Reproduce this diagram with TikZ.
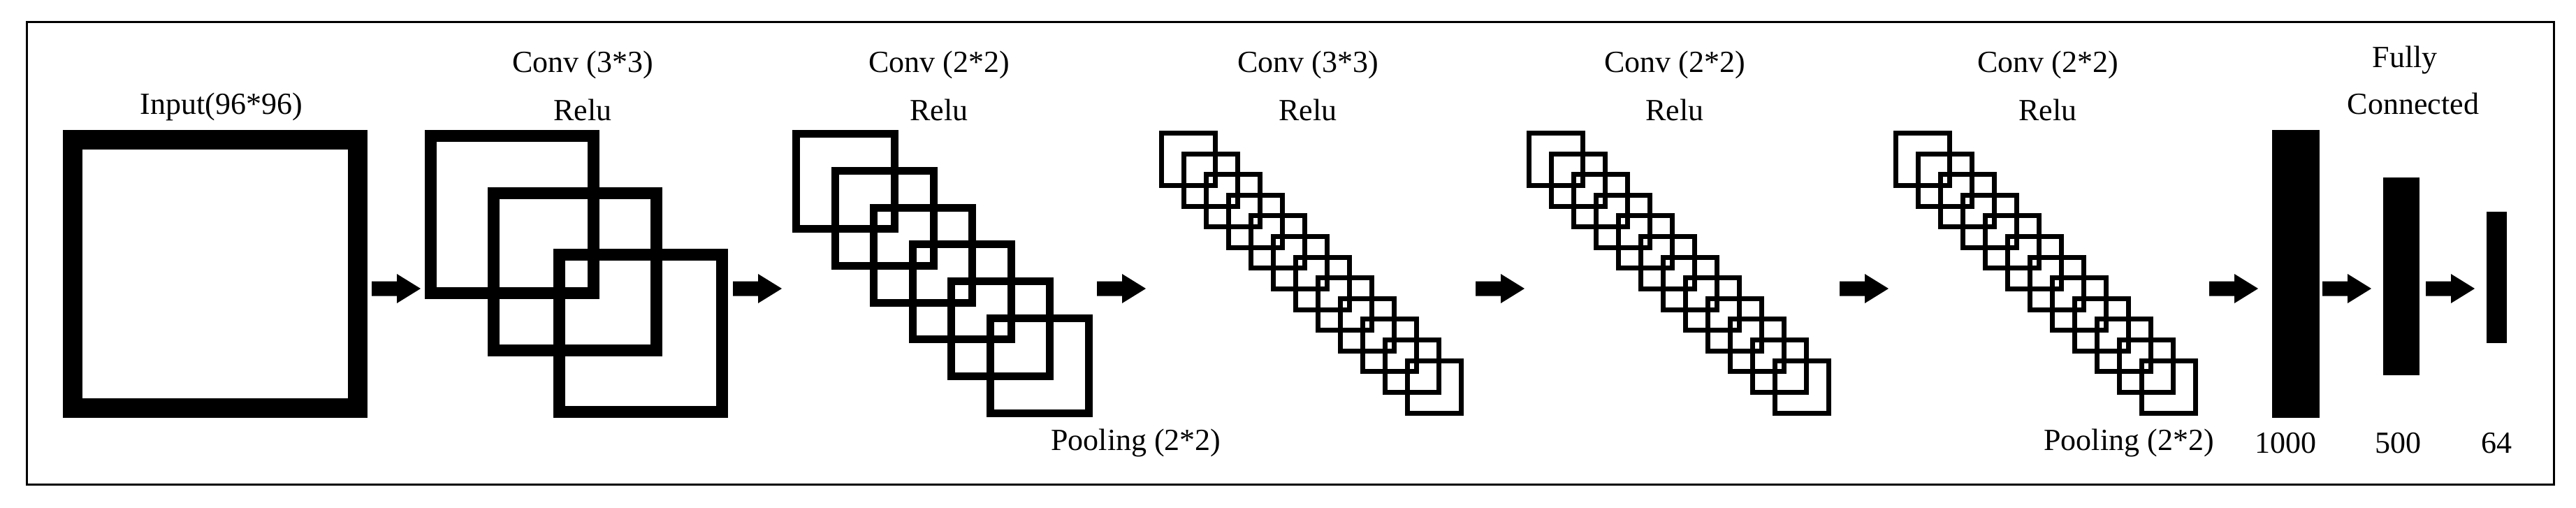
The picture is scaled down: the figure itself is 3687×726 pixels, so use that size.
\documentclass[tikz,border=0pt]{standalone}
\usepackage{fontspec}
\setmainfont{Liberation Serif}
\begin{document}
\begin{tikzpicture}[x=1pt,y=-1pt,
  lbl/.style={font=\fontsize{44}{50}\selectfont, inner sep=0pt, anchor=center},
  fm/.style={draw=black, line width=#1}]
\useasboundingbox (0,0) rectangle (3687,726);
\draw[line width=3] (38,31) rectangle (3655,693);
% arrow pic
\tikzset{pics/fwd/.style={code={
  \fill (0,-10.5) -- (36,-10.5) -- (36,-21) -- (70,0) -- (36,21) -- (36,10.5) -- (0,10.5) -- cycle;}}}
% input
\draw[fm=28] (104,200) rectangle (512,584);
\node[lbl] (tin) at (317,153) {Input(96*96)};
% conv1
\foreach \x/\y in {608/186,698/268,792/356}
  \draw[fm=17] (\x+8.5,\y+8.5) rectangle (\x+250-8.5,\y+242-8.5);
\node[lbl] (c1a) at (834,93) {Conv (3*3)};
\node[lbl] (c1b) at (834,157) {Relu};
% conv2
\foreach \i in {0,...,5}
  \draw[fm=11] ({1134+55.6*\i+5.5},{186+52.8*\i+5.5}) rectangle ({1134+55.6*\i+152-5.5},{186+52.8*\i+147-5.5});
\node[lbl] (c2a) at (1344,93) {Conv (2*2)};
\node[lbl] (c2b) at (1344,157) {Relu};
\node[lbl] (p1) at (1626,634) {Pooling (2*2)};
% small groups
\foreach \gx in {1659,2185,2710}
  \foreach \i in {0,...,11}
    \draw[fm=7] ({\gx+32*\i+3.5},{187+29.6*\i+3.5}) rectangle ({\gx+32*\i+84-3.5},{187+29.6*\i+82-3.5});
\node[lbl] (c3a) at (1872,93) {Conv (3*3)};
\node[lbl] (c3b) at (1872,157) {Relu};
\node[lbl] (c4a) at (2397,93) {Conv (2*2)};
\node[lbl] (c4b) at (2397,157) {Relu};
\node[lbl] (c5a) at (2931,93) {Conv (2*2)};
\node[lbl] (c5b) at (2931,157) {Relu};
\node[lbl] (p2) at (3047,634) {Pooling (2*2)};
% fully connected
\fill (3252,186) rectangle (3320,598);
\fill (3411,254) rectangle (3463,537);
\fill (3559,303) rectangle (3588,491);
\node[lbl] (f1) at (3442,86) {Fully};
\node[lbl] (f2) at (3454,148) {Connected};
\node[lbl] (n1) at (3271,634) {1000};
\node[lbl] (n2) at (3432,634) {500};
\node[lbl] (n3) at (3573,634) {64};
% arrows
\foreach \ax in {532,1049,1570,2112,2633,3162,3324,3472}
  \pic at (\ax,413) {fwd};
\end{tikzpicture}
\end{document}
